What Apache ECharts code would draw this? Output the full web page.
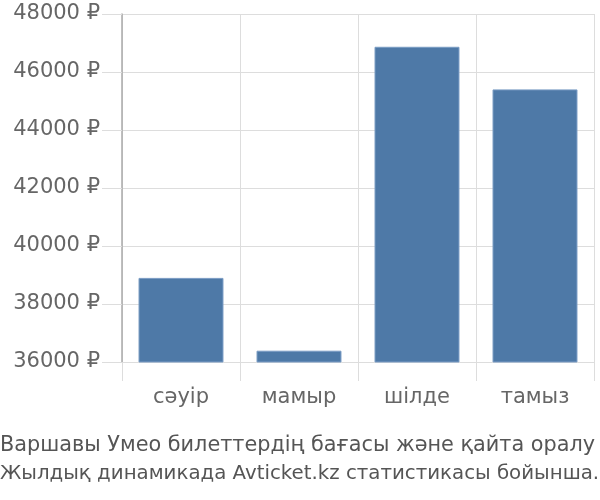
<!DOCTYPE html>
<html>
<head>
<meta charset="utf-8">
<script src="https://cdn.jsdelivr.net/npm/echarts@6/dist/echarts.min.js"></script>
<style>
  html, body { margin: 0; padding: 0; background: #fff; }
  #chart { width: 600px; height: 500px; }
</style>
</head>
<body>
<div id="chart"></div>
<script>
const months = ['сәуір', 'мамыр', 'шілде', 'тамыз'];
const prices = [38900, 36390, 46870, 45400];
const yTicks = { min: 36000, max: 48000, step: 2000 };
const titleLines = [
  'Варшавы Умео билеттердің бағасы және қайта оралу',
  'Жылдық динамикада Avticket.kz статистикасы бойынша.',
];

const chart = echarts.init(document.getElementById('chart'));

chart.setOption({
  animation: false,
  textStyle: { fontFamily: 'DejaVu Sans, sans-serif' },
  title: {
    text: '{a|' + titleLines[0] + '}\n{b|' + titleLines[1] + '}',
    left: 0,
    top: 432,
    padding: 0,
    textStyle: {
      fontFamily: 'DejaVu Sans, sans-serif',
      fontWeight: 'normal',
      color: '#555',
      rich: {
        a: { fontSize: 20.8, lineHeight: 28, color: '#555', fontFamily: 'DejaVu Sans, sans-serif' },
        b: { fontSize: 19.8, lineHeight: 28, color: '#555', fontFamily: 'DejaVu Sans, sans-serif' },
      },
    },
  },
  grid: { left: 122, right: 6, top: 14, bottom: 138, containLabel: false },
  xAxis: {
    type: 'category',
    data: months,
    axisLine: { lineStyle: { color: '#ddd', width: 1 } },
    axisTick: { show: true, length: 19, lineStyle: { color: '#ddd', width: 1 } },
    splitLine: { show: true, lineStyle: { color: '#ddd' } },
    axisLabel: { fontSize: 21, color: '#666', margin: 25 },
  },
  yAxis: {
    type: 'value',
    min: yTicks.min,
    max: yTicks.max,
    interval: yTicks.step,
    axisLine: { show: true, lineStyle: { color: '#aaa', width: 1.5 } },
    axisTick: { show: true, length: 20, lineStyle: { color: '#ddd', width: 1 } },
    splitLine: { lineStyle: { color: '#ddd' } },
    axisLabel: {
      fontSize: 21,
      color: '#666',
      margin: 22,
      formatter: v => v + ' ₽',
    },
  },
  series: [
    {
      type: 'bar',
      data: prices,
      barCategoryGap: '28%',
      itemStyle: { color: '#4e79a7', borderColor: '#7a9cc4', borderWidth: 1 },
    },
  ],
});
</script>
</body>
</html>
